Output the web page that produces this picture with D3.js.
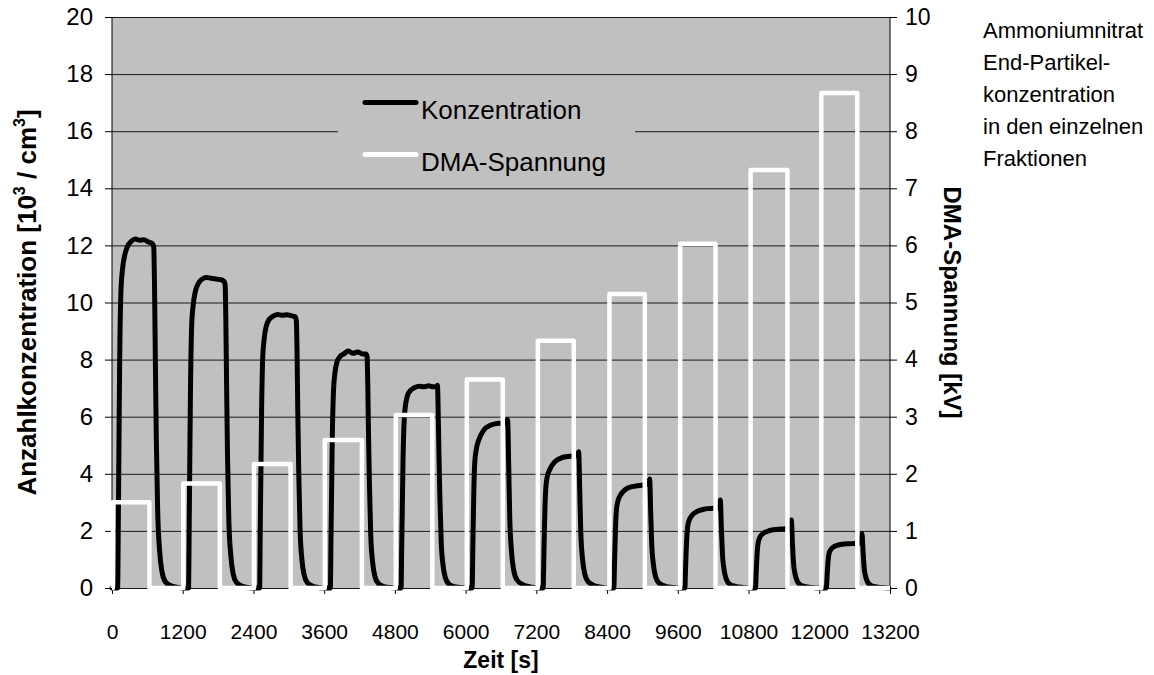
<!DOCTYPE html>
<html>
<head>
<meta charset="utf-8">
<script src="https://cdn.jsdelivr.net/npm/d3@7/dist/d3.min.js"></script>
<style>
  html, body { margin: 0; padding: 0; background: #fff; }
  svg { display: block; font-family: "Liberation Sans", Arial, sans-serif; }
</style>
</head>
<body>
<svg id="chart" width="1154" height="675"></svg>
<script>
// Achsen
const xTicks = [0, 1200, 2400, 3600, 4800, 6000, 7200, 8400, 9600, 10800, 12000, 13200];
const yLeftTicks = [0, 2, 4, 6, 8, 10, 12, 14, 16, 18, 20];
const yRightTicks = [0, 1, 2, 3, 4, 5, 6, 7, 8, 9, 10];

// DMA-Spannung [kV]: Stufen je Fraktion mit Ein-/Ausschaltzeit [s]
const spannungKV = [1.5, 1.83, 2.17, 2.59, 3.03, 3.65, 4.33, 5.15, 6.03, 7.32, 8.67];
const spannungEin = [15, 1210, 2410, 3610, 4815, 6020, 7225, 8440, 9640, 10835, 12035];
const spannungAus = [635, 1830, 3030, 4240, 5435, 6630, 7835, 9040, 10240, 11460, 12645];

// Anzahlkonzentration [10^3/cm^3] je Fraktion: [Zeit s, Wert]
const konzPuls1 = [[0,0],[95,0],[108,2.5],[118,5],[130,7.9],[150,10.3],[175,11.1],[210,11.6],[260,11.95],[330,12.15],[400,12.22],[470,12.18],[540,12.2],[620,12.12],[690,12.05],[708,11.95],[722,10.5],[736,7.9],[752,5.2],[775,2.7],[808,1.3],[850,0.55],[905,0.22],[1000,0.08],[1100,0.03],[1200,0]];
const konzPuls2 = [[1300,0],[1310,2.2],[1320,4.5],[1332,7],[1352,9.2],[1377,9.9],[1410,10.35],[1460,10.65],[1530,10.82],[1600,10.88],[1680,10.85],[1760,10.82],[1840,10.8],[1900,10.75],[1920,10.6],[1932,9.3],[1945,7],[1960,4.6],[1982,2.4],[2015,1.15],[2055,0.5],[2110,0.2],[2200,0.07],[2300,0.02],[2400,0]];
const konzPuls3 = [[2505,0],[2515,2],[2526,4],[2538,6.2],[2558,8.1],[2583,8.75],[2615,9.15],[2665,9.4],[2735,9.52],[2810,9.58],[2890,9.55],[2970,9.57],[3050,9.53],[3110,9.5],[3128,9.35],[3140,8.2],[3152,6.2],[3168,4.1],[3190,2.1],[3222,1.0],[3262,0.45],[3318,0.18],[3410,0.06],[3500,0.02],[3600,0]];
const konzPuls4 = [[3705,0],[3715,1.7],[3726,3.4],[3738,5.3],[3758,6.9],[3783,7.55],[3815,7.9],[3865,8.1],[3935,8.2],[4010,8.3],[4090,8.22],[4170,8.27],[4250,8.2],[4310,8.2],[4328,8.1],[4340,7.1],[4352,5.4],[4368,3.6],[4390,1.85],[4422,0.9],[4462,0.4],[4518,0.16],[4610,0.05],[4700,0.02],[4800,0]];
const konzPuls5 = [[4905,0],[4915,1.4],[4926,2.9],[4938,4.5],[4958,5.9],[4983,6.45],[5015,6.75],[5065,6.92],[5135,7.02],[5210,7.07],[5290,7.05],[5370,7.08],[5450,7.05],[5505,7.05],[5522,7.1],[5535,6.1],[5548,4.6],[5564,3.1],[5586,1.6],[5618,0.78],[5658,0.35],[5714,0.14],[5806,0.05],[5900,0.02],[6000,0]];
const konzPuls6 = [[6110,0],[6125,1.8],[6140,3.5],[6155,4.4],[6180,4.85],[6222,5.18],[6307,5.53],[6420,5.7],[6500,5.75],[6590,5.77],[6660,5.78],[6695,5.8],[6712,5.9],[6731,4.25],[6748,2.5],[6776,1.33],[6815,0.63],[6872,0.28],[6985,0.1],[7098,0.04],[7200,0]];
const konzPuls7 = [[7315,0],[7330,1.4],[7345,2.75],[7360,3.5],[7385,3.9],[7427,4.15],[7512,4.42],[7625,4.56],[7705,4.6],[7795,4.62],[7865,4.63],[7900,4.65],[7918,4.77],[7936,3.4],[7953,2.0],[7981,1.06],[8020,0.5],[8077,0.22],[8190,0.08],[8303,0.03],[8400,0]];
const konzPuls8 = [[8514,0],[8529,1.1],[8544,2.15],[8559,2.75],[8584,3.05],[8626,3.25],[8711,3.45],[8824,3.55],[8904,3.58],[8994,3.6],[9064,3.62],[9100,3.64],[9122,3.82],[9140,2.65],[9157,1.55],[9185,0.83],[9224,0.39],[9281,0.17],[9394,0.06],[9507,0.02],[9600,0]];
const konzPuls9 = [[9719,0],[9734,0.85],[9749,1.65],[9764,2.1],[9789,2.35],[9831,2.52],[9916,2.67],[10029,2.75],[10109,2.78],[10199,2.79],[10269,2.8],[10300,2.82],[10321,3.08],[10340,2.05],[10357,1.2],[10385,0.64],[10424,0.3],[10481,0.13],[10594,0.05],[10707,0.02],[10800,0]];
const konzPuls10 = [[10917,0],[10932,0.65],[10947,1.25],[10962,1.57],[10987,1.75],[11029,1.88],[11114,1.98],[11227,2.04],[11307,2.06],[11397,2.07],[11467,2.08],[11505,2.1],[11526,2.38],[11545,1.55],[11562,0.9],[11590,0.48],[11629,0.22],[11686,0.1],[11799,0.04],[11912,0.01],[12000,0]];
const konzPuls11 = [[12120,0],[12135,0.5],[12150,0.95],[12165,1.2],[12190,1.33],[12232,1.42],[12317,1.5],[12430,1.54],[12510,1.55],[12600,1.56],[12670,1.57],[12705,1.6],[12725,1.9],[12744,1.25],[12761,0.72],[12789,0.38],[12828,0.18],[12885,0.08],[12998,0.03],[13111,0.01],[13180,0]];

const legendLabels = ["Konzentration", "DMA-Spannung"];
const noteLines = ["Ammoniumnitrat", "End-Partikel-", "konzentration", "in den einzelnen", "Fraktionen"];

const W = 1154, H = 675;
const m = { top: 17, left: 112, right: 264, bottom: 87 };
const pw = W - m.left - m.right;
const ph = H - m.top - m.bottom;
const FONT = "Liberation Sans, Arial, sans-serif";

const svg = d3.select("#chart");
const g = svg.append("g").attr("transform", `translate(${m.left},${m.top})`);

const x = d3.scaleLinear().domain([0, 13200]).range([0, pw]);
const yL = d3.scaleLinear().domain([0, 20]).range([ph, 0]);
const yR = d3.scaleLinear().domain([0, 10]).range([ph, 0]);

// Zeichenfläche
g.append("rect").attr("width", pw).attr("height", ph).attr("fill", "#c0c0c0");

// Gitterlinien
g.append("g")
  .call(d3.axisLeft(yL).tickValues(yLeftTicks).tickSize(-pw).tickFormat(""))
  .call(s => s.select(".domain").remove())
  .call(s => s.selectAll("line").attr("stroke", "#1a1a1a").attr("stroke-width", 1));

// x-Achse
const xAxis = g.append("g").attr("transform", `translate(0,${ph})`)
  .call(d3.axisBottom(x).tickValues(xTicks).tickSize(6).tickPadding(30).tickFormat(d3.format("d")));
xAxis.select(".domain").remove();
xAxis.selectAll("line").attr("stroke", "#000");
xAxis.selectAll("text").attr("font-size", 21).attr("fill", "#000").attr("font-family", FONT);

// linke Achse
const lAxis = g.append("g")
  .call(d3.axisLeft(yL).tickValues(yLeftTicks).tickSize(7).tickPadding(12));
lAxis.selectAll("line, path").attr("stroke", "#000");
lAxis.select(".domain").attr("d", `M0,${ph}V0`);
lAxis.selectAll("text").attr("font-size", 24).attr("fill", "#000").attr("font-family", FONT);

// rechte Achse
const rAxis = g.append("g").attr("transform", `translate(${pw},0)`)
  .call(d3.axisRight(yR).tickValues(yRightTicks).tickSize(7).tickPadding(8));
rAxis.selectAll("line, path").attr("stroke", "#000");
rAxis.select(".domain").attr("d", `M0,${ph}V0`);
rAxis.selectAll("text").attr("font-size", 23).attr("fill", "#000").attr("font-family", FONT);

// Konzentration
const konz = [].concat(konzPuls1, konzPuls2, konzPuls3, konzPuls4, konzPuls5, konzPuls6,
                       konzPuls7, konzPuls8, konzPuls9, konzPuls10, konzPuls11);
const konzLine = d3.line().x(d => x(d[0])).y(d => yL(d[1])).curve(d3.curveMonotoneX);
g.append("path").datum(konz).attr("d", konzLine)
  .attr("fill", "none").attr("stroke", "#000").attr("stroke-width", 5)
  .attr("stroke-linejoin", "round").attr("stroke-linecap", "round");

// DMA-Spannung als Rechteckstufen
const spannung = [[0, 0]];
spannungKV.forEach((v, i) => {
  spannung.push([spannungEin[i], 0], [spannungEin[i], v], [spannungAus[i], v], [spannungAus[i], 0]);
});
spannung.push([13200, 0]);
const spLine = d3.line().x(d => x(d[0])).y(d => yR(d[1]));
g.append("path").datum(spannung).attr("d", spLine)
  .attr("fill", "none").attr("stroke", "#fff").attr("stroke-width", 4.5)
  .attr("stroke-linejoin", "round");

// Legende
const leg = g.append("g").attr("transform", `translate(${338 - m.left},${84 - m.top})`);
leg.append("rect").attr("width", 297).attr("height", 96).attr("fill", "#c0c0c0");
const legColors = ["#000", "#fff"];
legendLabels.forEach((lab, i) => {
  const yy = 18.5 + i * 52;
  leg.append("line").attr("x1", 27).attr("x2", 78).attr("y1", yy).attr("y2", yy)
    .attr("stroke", legColors[i]).attr("stroke-width", 5).attr("stroke-linecap", "round");
  leg.append("text").attr("x", 83).attr("y", yy + 16.5).attr("font-size", 26).attr("fill", "#000").text(lab);
});

// Achsentitel
svg.append("text").attr("x", m.left + pw / 2).attr("y", 668).attr("text-anchor", "middle")
  .attr("font-size", 23).attr("font-weight", "bold").text("Zeit [s]");

const lt = svg.append("text").attr("transform", `translate(36,${m.top + ph / 2}) rotate(-90)`)
  .attr("text-anchor", "middle").attr("font-size", 26).attr("font-weight", "bold");
lt.append("tspan").text("Anzahlkonzentration [10");
lt.append("tspan").attr("font-size", 16).attr("dy", -11).text("3");
lt.append("tspan").attr("dy", 11).text(" / cm");
lt.append("tspan").attr("font-size", 16).attr("dy", -11).text("3");
lt.append("tspan").attr("dy", 11).text("]");

svg.append("text").attr("transform", `translate(944,${m.top + ph / 2}) rotate(90)`)
  .attr("text-anchor", "middle").attr("font-size", 24).attr("font-weight", "bold")
  .text("DMA-Spannung [kV]");

// Beschriftung rechts oben
const note = svg.append("text").attr("font-size", 22).attr("fill", "#000");
noteLines.forEach((t, i) => {
  note.append("tspan").attr("x", 983).attr("y", 38 + i * 32).text(t);
});
</script>
</body>
</html>
